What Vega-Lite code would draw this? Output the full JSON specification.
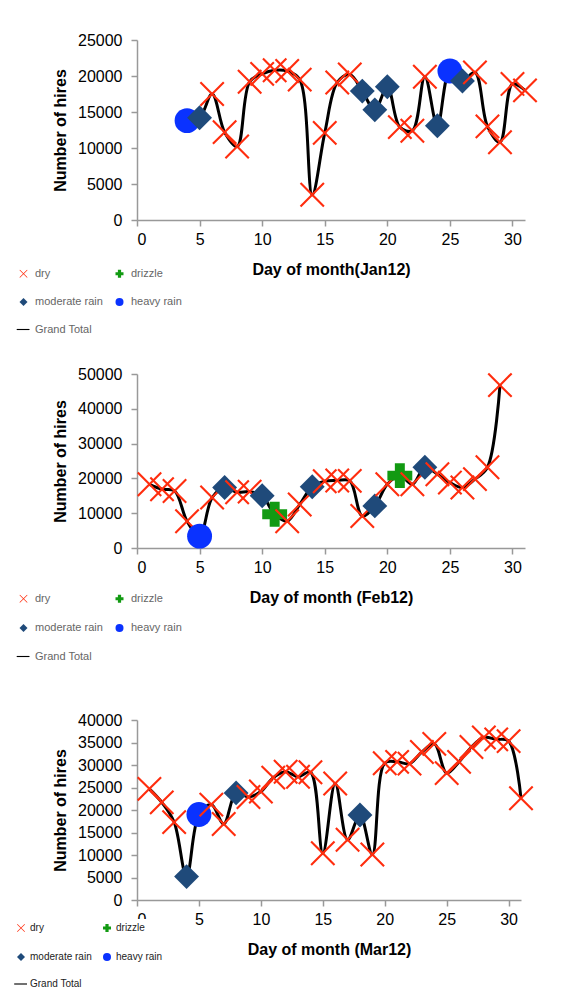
{
  "$schema": "https://vega.github.io/schema/vega-lite/v6.json",
  "background": "white",
  "padding": {"left": 12, "top": 32, "right": 5, "bottom": 0},
  "config": {
    "font": "Liberation Sans",
    "view": {"stroke": null},
    "axis": {"grid": false, "labelOverlap": false, "labelFont": "Liberation Sans", "labelFontSize": 16, "labelColor": "#000", "titleFont": "Liberation Sans", "titleFontSize": 16, "titleFontWeight": "bold", "titleColor": "#000", "domainColor": "#999", "domainWidth": 1.5, "tickColor": "#999", "tickWidth": 1.5, "tickSize": 6},
    "axisY": {"labelPadding": 9, "titlePadding": 9},
    "axisX": {"labelPadding": 5, "titlePadding": 14, "labelAngle": 0},
    "point": {"filled": true, "opacity": 1, "size": 620},
    "line": {"color": "black", "strokeWidth": 3, "interpolate": "catmull-rom"}
  },
  "datasets": {
    "jan": [
      {"day": 4, "hires": 13800, "weather": "heavy rain"},
      {"day": 5, "hires": 14200, "weather": "moderate rain"},
      {"day": 6, "hires": 17500, "weather": "dry"},
      {"day": 7, "hires": 12200, "weather": "dry"},
      {"day": 8, "hires": 10200, "weather": "dry"},
      {"day": 9, "hires": 19200, "weather": "dry"},
      {"day": 10, "hires": 20300, "weather": "dry"},
      {"day": 11, "hires": 20800, "weather": "dry"},
      {"day": 12, "hires": 20700, "weather": "dry"},
      {"day": 13, "hires": 19500, "weather": "dry"},
      {"day": 14, "hires": 3500, "weather": "dry"},
      {"day": 15, "hires": 12100, "weather": "dry"},
      {"day": 16, "hires": 19100, "weather": "dry"},
      {"day": 17, "hires": 20200, "weather": "dry"},
      {"day": 18, "hires": 17900, "weather": "moderate rain"},
      {"day": 19, "hires": 15300, "weather": "moderate rain"},
      {"day": 20, "hires": 18500, "weather": "moderate rain"},
      {"day": 21, "hires": 12900, "weather": "dry"},
      {"day": 22, "hires": 12400, "weather": "dry"},
      {"day": 23, "hires": 19900, "weather": "dry"},
      {"day": 24, "hires": 13100, "weather": "moderate rain"},
      {"day": 25, "hires": 20700, "weather": "heavy rain"},
      {"day": 26, "hires": 19300, "weather": "moderate rain"},
      {"day": 27, "hires": 20500, "weather": "dry"},
      {"day": 28, "hires": 13000, "weather": "dry"},
      {"day": 29, "hires": 10800, "weather": "dry"},
      {"day": 30, "hires": 18900, "weather": "dry"},
      {"day": 31, "hires": 18000, "weather": "dry"}
    ],
    "feb": [
      {"day": 1, "hires": 18300, "weather": "dry"},
      {"day": 2, "hires": 16900, "weather": "dry"},
      {"day": 3, "hires": 16400, "weather": "dry"},
      {"day": 4, "hires": 7700, "weather": "dry"},
      {"day": 5, "hires": 3400, "weather": "heavy rain"},
      {"day": 6, "hires": 14500, "weather": "dry"},
      {"day": 7, "hires": 17400, "weather": "moderate rain"},
      {"day": 8, "hires": 16000, "weather": "dry"},
      {"day": 9, "hires": 16200, "weather": "dry"},
      {"day": 10, "hires": 15000, "weather": "moderate rain"},
      {"day": 11, "hires": 9700, "weather": "drizzle"},
      {"day": 12, "hires": 7700, "weather": "dry"},
      {"day": 13, "hires": 12500, "weather": "dry"},
      {"day": 14, "hires": 17600, "weather": "moderate rain"},
      {"day": 15, "hires": 19200, "weather": "dry"},
      {"day": 16, "hires": 19400, "weather": "dry"},
      {"day": 17, "hires": 19300, "weather": "dry"},
      {"day": 18, "hires": 9200, "weather": "dry"},
      {"day": 19, "hires": 12100, "weather": "moderate rain"},
      {"day": 20, "hires": 18300, "weather": "dry"},
      {"day": 21, "hires": 20800, "weather": "drizzle"},
      {"day": 22, "hires": 18300, "weather": "dry"},
      {"day": 23, "hires": 23200, "weather": "moderate rain"},
      {"day": 24, "hires": 21200, "weather": "dry"},
      {"day": 25, "hires": 18800, "weather": "dry"},
      {"day": 26, "hires": 17400, "weather": "dry"},
      {"day": 27, "hires": 19800, "weather": "dry"},
      {"day": 28, "hires": 23200, "weather": "dry"},
      {"day": 29, "hires": 46800, "weather": "dry"}
    ],
    "mar": [
      {"day": 1, "hires": 24700, "weather": "dry"},
      {"day": 2, "hires": 21700, "weather": "dry"},
      {"day": 3, "hires": 17300, "weather": "dry"},
      {"day": 4, "hires": 5200, "weather": "moderate rain"},
      {"day": 5, "hires": 19000, "weather": "heavy rain"},
      {"day": 6, "hires": 21200, "weather": "dry"},
      {"day": 7, "hires": 16900, "weather": "dry"},
      {"day": 8, "hires": 23800, "weather": "moderate rain"},
      {"day": 9, "hires": 22900, "weather": "dry"},
      {"day": 10, "hires": 24100, "weather": "dry"},
      {"day": 11, "hires": 27200, "weather": "dry"},
      {"day": 12, "hires": 28500, "weather": "dry"},
      {"day": 13, "hires": 27400, "weather": "dry"},
      {"day": 14, "hires": 28400, "weather": "dry"},
      {"day": 15, "hires": 10400, "weather": "dry"},
      {"day": 16, "hires": 25900, "weather": "dry"},
      {"day": 17, "hires": 13400, "weather": "dry"},
      {"day": 18, "hires": 18900, "weather": "moderate rain"},
      {"day": 19, "hires": 10100, "weather": "dry"},
      {"day": 20, "hires": 30400, "weather": "dry"},
      {"day": 21, "hires": 30700, "weather": "dry"},
      {"day": 22, "hires": 30300, "weather": "dry"},
      {"day": 23, "hires": 32900, "weather": "dry"},
      {"day": 24, "hires": 34700, "weather": "dry"},
      {"day": 25, "hires": 28200, "weather": "dry"},
      {"day": 26, "hires": 30700, "weather": "dry"},
      {"day": 27, "hires": 34000, "weather": "dry"},
      {"day": 28, "hires": 36100, "weather": "dry"},
      {"day": 29, "hires": 35700, "weather": "dry"},
      {"day": 30, "hires": 35300, "weather": "dry"},
      {"day": 31, "hires": 22600, "weather": "dry"}
    ]
  },
  "spacing": 154,
  "bounds": "flush",
  "resolve": {"scale": {"x": "independent", "y": "independent", "color": "independent", "shape": "independent"}, "legend": {"color": "independent", "shape": "independent"}},
  "vconcat": [
    {
      "width": 388, "height": 180,
      "data": {"name": "jan"},
      "encoding": {
        "x": {"field": "day", "type": "quantitative", "scale": {"domain": [0, 31], "nice": false}, "axis": {"values": [0, 5, 10, 15, 20, 25, 30], "format": "d", "title": "Day of month(Jan12)"}},
        "y": {"field": "hires", "type": "quantitative", "scale": {"domain": [0, 25000], "nice": false}, "axis": {"values": [0, 5000, 10000, 15000, 20000, 25000], "format": "d", "title": "Number of hires"}}
      },
      "layer": [
        {"mark": {"type": "line"}, "encoding": {}},
        {"mark": {"type": "point"},
         "encoding": {
           "color": {"field": "weather", "type": "nominal",
             "scale": {"domain": ["dry", "moderate rain", "Grand Total", "drizzle", "heavy rain"], "range": ["#ff2d0e", "#1f4a7a", "#000000", "#129a12", "#0a32ff"]},
             "legend": {"title": null, "orient": "none", "legendX": -119, "legendY": 228, "columns": 2, "columnPadding": 9, "rowPadding": 13.5, "symbolSize": 64, "labelFontSize": 11, "labelColor": "#666", "labelOffset": 6, "padding": 0}},
           "shape": {"field": "weather", "type": "nominal",
             "scale": {"domain": ["dry", "moderate rain", "Grand Total", "drizzle", "heavy rain"], "range": ["M-1,-0.88L-0.88,-1L0,-0.12L0.88,-1L1,-0.88L0.12,0L1,0.88L0.88,1L0,0.12L-0.88,1L-1,0.88L-0.12,0Z", "diamond", "M-1.7,-0.14L1.5,-0.14L1.5,0.14L-1.7,0.14Z", "cross", "circle"]},
             "legend": {"title": null, "orient": "none", "legendX": -119, "legendY": 228, "columns": 2, "columnPadding": 9, "rowPadding": 13.5, "symbolSize": 64, "labelFontSize": 11, "labelColor": "#666", "labelOffset": 6, "padding": 0}}
         }}
      ]
    },
    {
      "spacing": 172,
      "bounds": "flush",
      "resolve": {"scale": {"x": "independent", "y": "independent", "color": "independent", "shape": "independent"}, "legend": {"color": "independent", "shape": "independent"}},
      "vconcat": [
        {
          "width": 388, "height": 174,
          "data": {"name": "feb"},
          "encoding": {
            "x": {"field": "day", "type": "quantitative", "scale": {"domain": [0, 31], "nice": false}, "axis": {"values": [0, 5, 10, 15, 20, 25, 30], "format": "d", "title": "Day of month (Feb12)"}},
            "y": {"field": "hires", "type": "quantitative", "scale": {"domain": [0, 50000], "nice": false}, "axis": {"values": [0, 10000, 20000, 30000, 40000, 50000], "format": "d", "title": "Number of hires"}}
          },
          "layer": [
            {"mark": {"type": "line"}, "encoding": {}},
            {"mark": {"type": "point"},
             "encoding": {
               "color": {"field": "weather", "type": "nominal",
                 "scale": {"domain": ["dry", "moderate rain", "Grand Total", "drizzle", "heavy rain"], "range": ["#ff2d0e", "#1f4a7a", "#000000", "#129a12", "#0a32ff"]},
                 "legend": {"title": null, "orient": "none", "legendX": -119, "legendY": 219, "columns": 2, "columnPadding": 9, "rowPadding": 14.5, "symbolSize": 64, "labelFontSize": 11, "labelColor": "#666", "labelOffset": 6, "padding": 0}},
               "shape": {"field": "weather", "type": "nominal",
                 "scale": {"domain": ["dry", "moderate rain", "Grand Total", "drizzle", "heavy rain"], "range": ["M-1,-0.88L-0.88,-1L0,-0.12L0.88,-1L1,-0.88L0.12,0L1,0.88L0.88,1L0,0.12L-0.88,1L-1,0.88L-0.12,0Z", "diamond", "M-1.7,-0.14L1.5,-0.14L1.5,0.14L-1.7,0.14Z", "cross", "circle"]},
                 "legend": {"title": null, "orient": "none", "legendX": -119, "legendY": 219, "columns": 2, "columnPadding": 9, "rowPadding": 14.5, "symbolSize": 64, "labelFontSize": 11, "labelColor": "#666", "labelOffset": 6, "padding": 0}}
             }}
          ]
        },
        {
          "width": 384, "height": 180,
          "data": {"name": "mar"},
          "encoding": {
            "x": {"field": "day", "type": "quantitative", "scale": {"domain": [0, 31], "nice": false}, "axis": {"values": [0, 5, 10, 15, 20, 25, 30], "format": "d", "title": "Day of month (Mar12)"}},
            "y": {"field": "hires", "type": "quantitative", "scale": {"domain": [0, 40000], "nice": false}, "axis": {"values": [0, 5000, 10000, 15000, 20000, 25000, 30000, 35000, 40000], "format": "d", "title": "Number of hires"}}
          },
          "layer": [
            {"mark": {"type": "line"}, "encoding": {}},
            {"mark": {"type": "point"},
             "encoding": {
               "color": {"field": "weather", "type": "nominal",
                 "scale": {"domain": ["dry", "moderate rain", "Grand Total", "drizzle", "heavy rain"], "range": ["#ff2d0e", "#1f4a7a", "#000000", "#129a12", "#0a32ff"]},
                 "legend": {"title": null, "orient": "none", "legendX": -125, "legendY": 199, "columns": 2, "columnPadding": 8, "rowPadding": 15, "symbolSize": 64, "labelFontSize": 10, "labelColor": "#222", "labelOffset": 4, "padding": 4, "fillColor": "white"}},
               "shape": {"field": "weather", "type": "nominal",
                 "scale": {"domain": ["dry", "moderate rain", "Grand Total", "drizzle", "heavy rain"], "range": ["M-1,-0.88L-0.88,-1L0,-0.12L0.88,-1L1,-0.88L0.12,0L1,0.88L0.88,1L0,0.12L-0.88,1L-1,0.88L-0.12,0Z", "diamond", "M-1.7,-0.14L1.5,-0.14L1.5,0.14L-1.7,0.14Z", "cross", "circle"]},
                 "legend": {"title": null, "orient": "none", "legendX": -125, "legendY": 199, "columns": 2, "columnPadding": 8, "rowPadding": 15, "symbolSize": 64, "labelFontSize": 10, "labelColor": "#222", "labelOffset": 4, "padding": 4, "fillColor": "white"}}
             }}
          ]
        }
      ]
    }
  ]
}
